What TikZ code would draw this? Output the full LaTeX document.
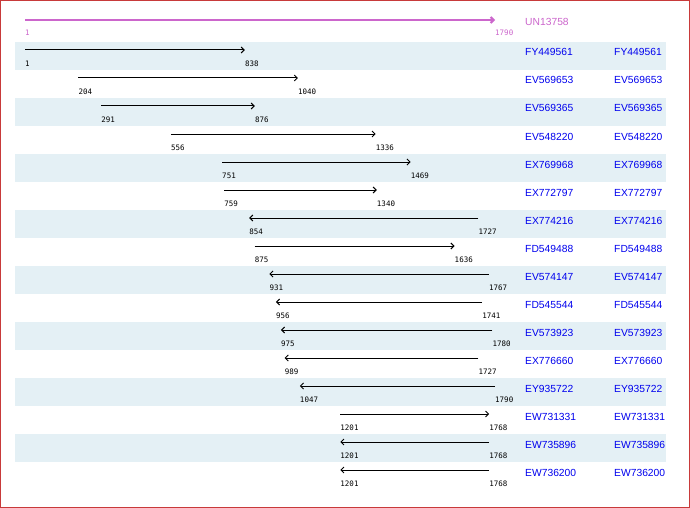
\documentclass[tikz,border=0pt]{standalone}
\usepackage{fontspec}
\setmainfont{Liberation Sans}
\newfontfamily\numfont{DejaVu Sans Mono}
\usetikzlibrary{arrows.meta}
\definecolor{stripe}{HTML}{E4F0F5}
\definecolor{frame}{HTML}{C83A3A}
\definecolor{qcol}{HTML}{CC66CC}
\definecolor{acc}{HTML}{0000EE}
\tikzset{
  hit/.style={line width=1pt, draw=black, -{Straight Barb[length=3pt,width=6pt]}},
  qline/.style={line width=2pt, draw=qcol, -{Straight Barb[length=3pt,width=6pt]}},
  poslabel/.style={anchor=base west, inner sep=0pt, font=\numfont\fontsize{7.5}{8}\selectfont},
  acclabel/.style={anchor=base west, inner sep=0pt, text=acc, font=\fontsize{10.3}{12}\selectfont},
}
\begin{document}
\begin{tikzpicture}[x=1pt,y=-1pt]
\useasboundingbox (0,0) rectangle (690,508);
\fill[white] (0,0) rectangle (690,508);
% stripes
\foreach \i in {0,2,...,14} {
  \fill[stripe] (15,42+28*\i) rectangle (666,70+28*\i);
}
\draw[frame, line width=1pt] (0.5,0.5) rectangle (689.5,507.5);
% query
\coordinate (qs) at (25,20);
\coordinate (qe) at (495,20);
\draw[qline] (qs) -- (qe);
\node[poslabel, text=qcol] (qsl) at (25,36) {1};
\node[poslabel, text=qcol] (qel) at (495,36) {1790};
\node[acclabel, text=qcol] (qname) at (525,26) {UN13758};
% hits: index/start/end/dir/name
\foreach \i/\s/\e/\d/\n in {
  0/1/838/1/FY449561,
  1/204/1040/1/EV569653,
  2/291/876/1/EV569365,
  3/556/1336/1/EV548220,
  4/751/1469/1/EX769968,
  5/759/1340/1/EX772797,
  6/854/1727/0/EX774216,
  7/875/1636/1/FD549488,
  8/931/1767/0/EV574147,
  9/956/1741/0/FD545544,
  10/975/1780/0/EV573923,
  11/989/1727/0/EX776660,
  12/1047/1790/0/EY935722,
  13/1201/1768/1/EW731331,
  14/1201/1768/0/EW735896,
  15/1201/1768/0/EW736200} {
  \pgfmathsetmacro\xa{25+(\s-1)/1789*470}
  \pgfmathsetmacro\xb{25+(\e-1)/1789*470}
  \pgfmathsetmacro\yy{50+28*\i}
  \pgfmathsetmacro\yl{66.5+28*\i}
  \pgfmathsetmacro\yn{56+28*\i}
  \coordinate (s\i) at (\xa,\yy);
  \coordinate (e\i) at (\xb,\yy);
  \ifnum\d=1
    \draw[hit] (s\i) -- (e\i);
  \else
    \draw[hit] (e\i) -- (s\i);
  \fi
  \node[poslabel] (sl\i) at (\xa,\yl) {\s};
  \node[poslabel] (el\i) at (\xb,\yl) {\e};
  \node[acclabel] (na\i) at (525,\yn) {\n};
  \node[acclabel] (nb\i) at (614,\yn) {\n};
}
\end{tikzpicture}
\end{document}
